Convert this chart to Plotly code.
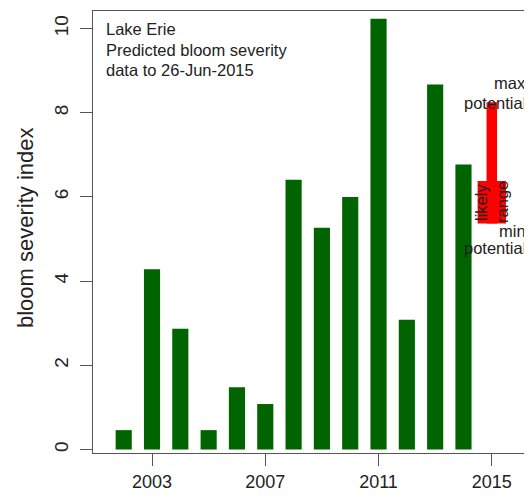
import plotly.graph_objects as go

years = [2002, 2003, 2004, 2005, 2006, 2007, 2008, 2009, 2010, 2011, 2012, 2013, 2014]
severity = [0.46, 4.28, 2.87, 0.46, 1.48, 1.08, 6.41, 5.27, 6.0, 10.23, 3.08, 8.67, 6.77]
forecast_year = [2015]
forecast_min = [5.37]
forecast_max = [8.25]
likely_low = [5.37]
likely_high = [6.38]
x_ticks = [2003, 2007, 2011, 2015]
y_ticks = [0, 2, 4, 6, 8, 10]
info_lines = ["Lake Erie", "Predicted bloom severity", "data to 26-Jun-2015"]

FONT = "Liberation Sans, Arial, sans-serif"
TXT = "#222222"
fig = go.Figure()
fig.add_trace(go.Bar(x=years, y=severity, width=0.57, marker=dict(color="#006400", line=dict(width=0)), showlegend=False))
fig.add_trace(go.Bar(x=forecast_year, base=forecast_min,
                     y=[forecast_max[0] - forecast_min[0]], width=0.37,
                     marker=dict(color="#ff0000", line=dict(width=0)), showlegend=False))
fig.add_trace(go.Bar(x=forecast_year, base=likely_low,
                     y=[likely_high[0] - likely_low[0]], width=1.0,
                     marker=dict(color="#ff0000", line=dict(width=0)), showlegend=False))

# page body has an 8px margin, so the figure is sized/offset to compensate
fig.update_layout(
    width=524, height=484, barmode="overlay",
    margin=dict(l=85, r=0, t=3, b=39),
    paper_bgcolor="white", plot_bgcolor="white",
    font=dict(family=FONT, color=TXT),
    xaxis=dict(range=[2000.916, 2016.42], tickvals=x_ticks, ticktext=[str(t) for t in x_ticks],
               automargin=False,
               showgrid=False, zeroline=False, showline=True, linecolor="#555555", linewidth=1,
               mirror=True, ticks="outside", ticklen=12, tickcolor="#555555",
               tickfont=dict(size=18, family=FONT, color=TXT)),
    yaxis=dict(range=[-0.083, 10.416], tickvals=y_ticks, showgrid=False, zeroline=False,
               automargin=False,
               showline=True, linecolor="#555555", linewidth=1, mirror=True,
               ticks="outside", ticklen=12, tickcolor="#555555", tickangle=-90,
               ticklabelstandoff=4,
               tickfont=dict(size=19, family=FONT, color=TXT)),
)

fig.add_annotation(x=0, y=0.509, xref="paper", yref="paper", text="bloom severity index",
                   showarrow=False, textangle=-90, xanchor="center", yanchor="middle",
                   xshift=-68, font=dict(size=22, family=FONT, color=TXT))

for i, line in enumerate(info_lines):
    fig.add_annotation(x=0.0, y=1, xref="x domain", yref="y domain", text=line, showarrow=False,
                       xanchor="left", yanchor="middle", xshift=11, yshift=-18 - 20.5 * i,
                       font=dict(size=16.5, family=FONT, color=TXT))

label_x = 2016.27
fig.add_annotation(x=label_x, y=forecast_max[0], text="max", showarrow=False, xanchor="right",
                   yanchor="middle", yshift=19, font=dict(size=16.5, family=FONT, color=TXT))
fig.add_annotation(x=label_x, y=forecast_max[0], text="potential", showarrow=False, xanchor="right",
                   yanchor="middle", yshift=-1, font=dict(size=16.5, family=FONT, color=TXT))
fig.add_annotation(x=label_x, y=forecast_min[0], text="min", showarrow=False, xanchor="right",
                   yanchor="middle", yshift=-8, font=dict(size=16.5, family=FONT, color=TXT))
fig.add_annotation(x=label_x, y=forecast_min[0], text="potential", showarrow=False, xanchor="right",
                   yanchor="middle", yshift=-25, font=dict(size=16.5, family=FONT, color=TXT))
mid = (likely_low[0] + likely_high[0]) / 2
fig.add_annotation(x=forecast_year[0], y=mid, text="likely", showarrow=False, textangle=-90,
                   xshift=-11, font=dict(size=16.5, family=FONT, color=TXT))
fig.add_annotation(x=forecast_year[0], y=mid, text="range", showarrow=False, textangle=-90,
                   xshift=10, font=dict(size=16.5, family=FONT, color=TXT))

fig.write_html("out.html")
